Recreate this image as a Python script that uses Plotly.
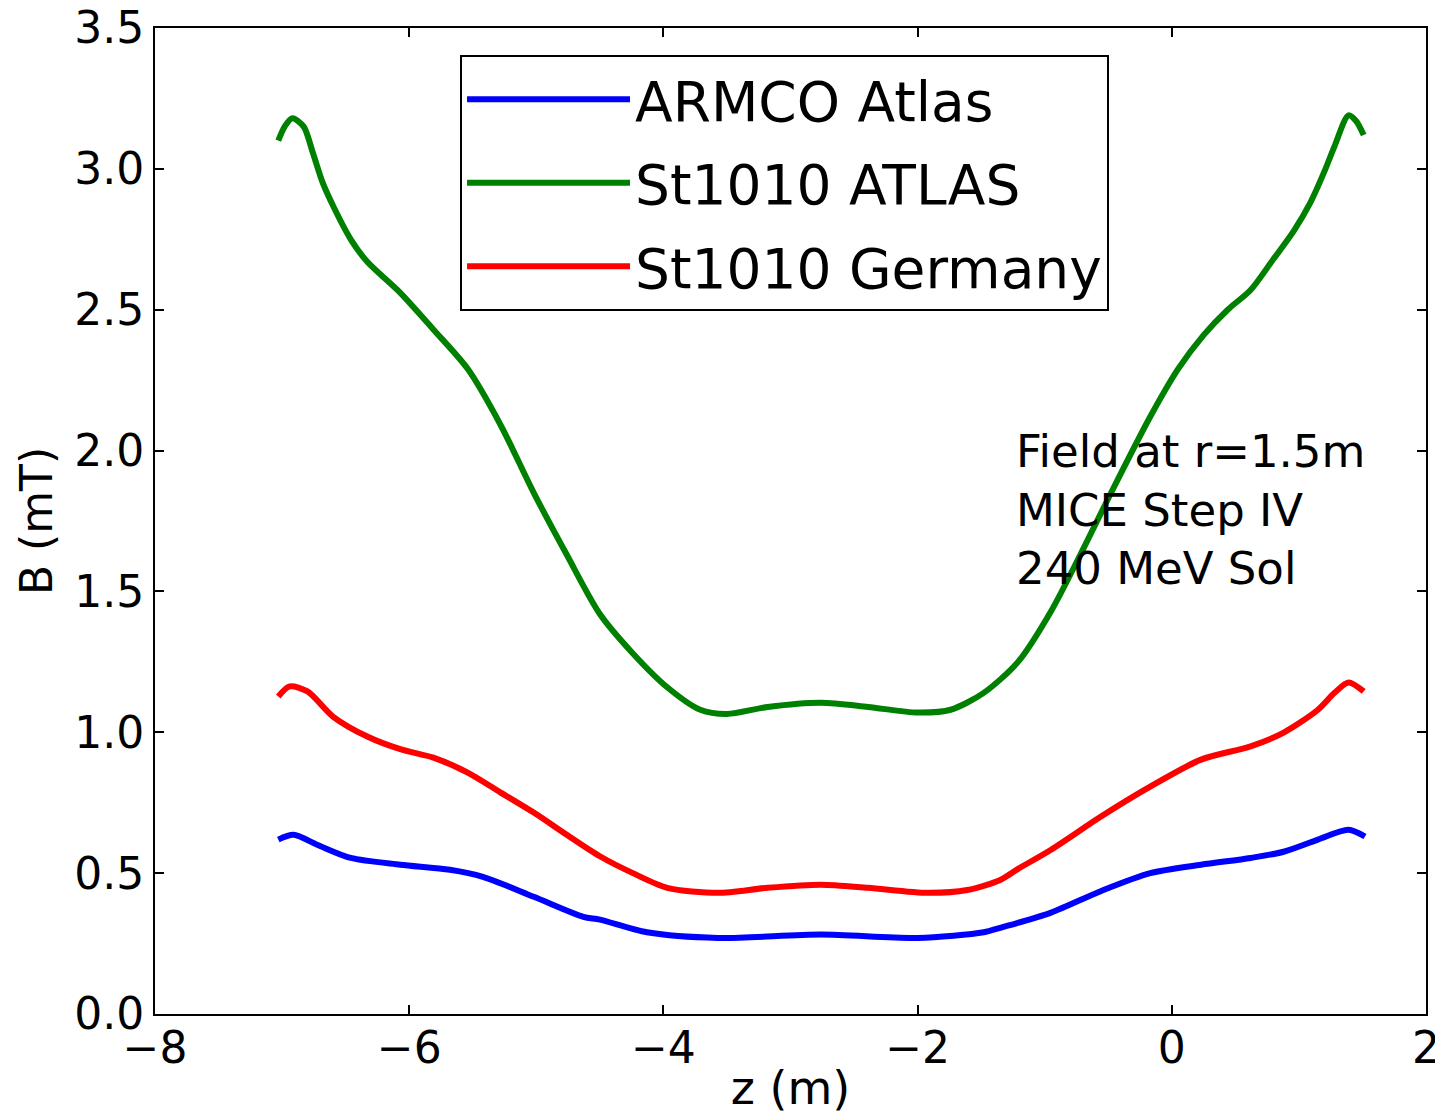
import plotly.graph_objects as go

# St1010 ATLAS (green)
z_green = [-7.03, -6.98, -6.92, -6.83, -6.76, -6.68, -6.60, -6.46, -6.33, -6.07, -5.81, -5.54,
           -5.28, -5.02, -4.76, -4.50, -4.24, -3.97, -3.71, -3.50, -3.18, -2.76, -2.39, -2.00,
           -1.74, -1.48, -1.21, -0.95, -0.72, -0.50, -0.17, 0.05, 0.25, 0.44, 0.62, 0.80, 0.96,
           1.09, 1.20, 1.28, 1.39, 1.45, 1.51]
b_green = [3.10, 3.15, 3.18, 3.15, 3.06, 2.95, 2.87, 2.75, 2.67, 2.56, 2.43, 2.29,
           2.09, 1.85, 1.63, 1.42, 1.28, 1.16, 1.08, 1.065, 1.09, 1.105, 1.09, 1.07,
           1.08, 1.14, 1.25, 1.43, 1.63, 1.83, 2.12, 2.29, 2.41, 2.50, 2.57, 2.68, 2.78,
           2.88, 2.99, 3.08, 3.19, 3.17, 3.12]

# St1010 Germany (red)
z_red = [-7.03, -6.94, -6.80, -6.60, -6.33, -6.07, -5.81, -5.54, -5.28, -5.02, -4.76, -4.50,
         -4.24, -3.97, -3.57, -3.18, -2.76, -2.39, -1.92, -1.61, -1.35, -1.21, -0.95, -0.56,
         -0.17, 0.23, 0.62, 0.88, 1.15, 1.28, 1.39, 1.51]
b_red = [1.127, 1.163, 1.145, 1.056, 0.985, 0.94, 0.91, 0.857, 0.786, 0.715, 0.636, 0.56,
         0.50, 0.448, 0.43, 0.448, 0.459, 0.448, 0.43, 0.44, 0.476, 0.515, 0.583, 0.70,
         0.807, 0.903, 0.95, 0.999, 1.08, 1.14, 1.177, 1.145]

# ARMCO Atlas (blue)
z_blue = [-7.03, -6.91, -6.72, -6.46, -6.07, -5.68, -5.42, -5.02, -4.63, -4.50, -4.13, -3.57,
          -2.76, -2.00, -1.48, -1.35, -0.95, -0.56, -0.17, 0.23, 0.62, 0.88, 1.15, 1.39, 1.52]
b_blue = [0.619, 0.636, 0.60, 0.554, 0.53, 0.512, 0.487, 0.416, 0.345, 0.335, 0.29, 0.27,
          0.282, 0.27, 0.29, 0.306, 0.36, 0.436, 0.50, 0.53, 0.554, 0.576, 0.619, 0.654, 0.63]

x_ticks = [-8, -6, -4, -2, 0, 2]
y_ticks = [0.0, 0.5, 1.0, 1.5, 2.0, 2.5, 3.0, 3.5]

FONT = "DejaVu Sans"

fig = go.Figure()
series = [
    ("ARMCO Atlas", z_blue, b_blue, "#0000FF"),
    ("St1010 ATLAS", z_green, b_green, "#008000"),
    ("St1010 Germany", z_red, b_red, "#FF0000"),
]
for i, (name, zz, bb, col) in enumerate(series):
    fig.add_trace(go.Scatter(
        x=zz, y=bb, mode="lines", name=name, legendgroup=f"g{i}",
        line=dict(color=col, width=6, shape="spline", smoothing=0.8),
    ))

axis_common = dict(
    showline=True, linecolor="black", linewidth=2, mirror="allticks",
    ticks="inside", ticklen=9, tickwidth=1.5, tickcolor="black",
    showgrid=False, zeroline=False, automargin=False,
    ticklabeloverflow="allow",
    tickfont=dict(family=FONT, size=44, color="black"),
)

fig.update_xaxes(range=[-8, 2], tickvals=x_ticks, ticklabelstandoff=-6,
                 title=dict(text="z (m)", font=dict(family=FONT, size=46, color="black"), standoff=0),
                 **axis_common)
fig.update_yaxes(range=[0, 3.5], tickvals=y_ticks, tickformat=".1f",
                 title=dict(text="B (mT)", font=dict(family=FONT, size=44, color="black"), standoff=8),
                 **axis_common)

fig.add_annotation(
    x=-1.24, y=1.79, xref="x", yref="y", xanchor="left", yanchor="middle", align="left",
    text="Field at r=1.5m<br>MICE Step IV<br>240 MeV Sol", showarrow=False,
    font=dict(family=FONT, size=45, color="black"),
)

fig.update_layout(
    width=1435, height=1111,
    margin=dict(l=147, r=17, t=20, b=105),
    plot_bgcolor="white", paper_bgcolor="white",
    font=dict(family=FONT, color="black"),
    legend=dict(
        x=0.24, y=0.9726, xanchor="left", yanchor="top",
        bgcolor="white", bordercolor="black", borderwidth=2,
        font=dict(family=FONT, size=55, color="black"),
        itemwidth=163, tracegroupgap=9,
    ),
)

fig.write_html("out.html")
